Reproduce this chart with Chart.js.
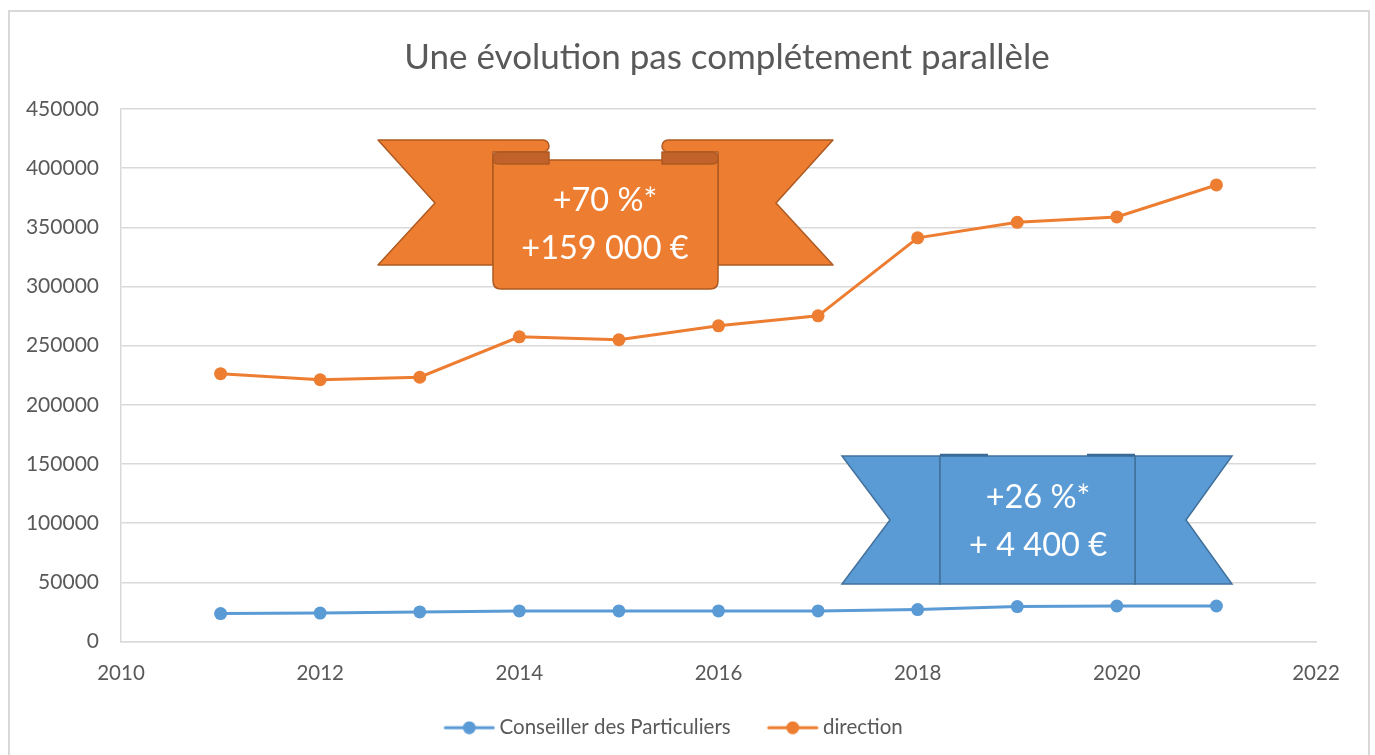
<!DOCTYPE html>
<html>
<head>
<meta charset="utf-8">
<script src="https://cdn.jsdelivr.net/npm/chart.js@4"></script>
<style>
html,body{margin:0;padding:0;background:#fff;}
#wrap{width:1375px;height:755px;position:relative;}
</style>
</head>
<body>
<div id="wrap"><canvas id="c" width="1375" height="755"></canvas></div>
<script>
// ---- data ----
const years = [2011, 2012, 2013, 2014, 2015, 2016, 2017, 2018, 2019, 2020, 2021];
const conseiller = [23600, 24000, 25000, 25800, 25800, 25800, 25800, 27000, 29500, 30000, 30000];
const direction = [226300, 221200, 223300, 257500, 255000, 266800, 275200, 341100, 354200, 358800, 385800];
const seriesNames = ['Conseiller des Particuliers', 'direction'];
const titleText = 'Une évolution pas complétement parallèle';
const bannerOrangeText = ['+70 %*', '+159 000 €'];
const bannerBlueText = ['+26 %*', '+ 4 400 €'];

const BLUE = '#5B9BD5', ORANGE = '#ED7D31';
const FONT = 'Lato, "Open Sans", sans-serif';
const GREY = '#595959';

// legend icon: line with a dot, drawn in the right 52px of a 64px-wide image
function legendIcon(color) {
  const c = document.createElement('canvas');
  c.width = 64; c.height = 14;
  const g = c.getContext('2d');
  const o = 12;
  g.strokeStyle = color; g.lineWidth = 3; g.lineCap = 'round';
  g.beginPath(); g.moveTo(o + 2, 7); g.lineTo(o + 50, 7); g.stroke();
  g.fillStyle = color; g.beginPath(); g.arc(o + 26, 7, 6.5, 0, Math.PI * 2); g.fill();
  return c;
}
const icons = [legendIcon(BLUE), legendIcon(ORANGE)];

const borderPlugin = {
  id: 'outerBorder',
  beforeDraw(chart) {
    const ctx = chart.ctx;
    ctx.save();
    ctx.fillStyle = '#fff';
    ctx.fillRect(0, 0, chart.width, chart.height);
    ctx.strokeStyle = '#d9d9d9';
    ctx.lineWidth = 2;
    ctx.strokeRect(9, 11, 1360, 800);
    ctx.restore();
  }
};

const titlePlugin = {
  id: 'titleText',
  afterDraw(chart) {
    const ctx = chart.ctx;
    ctx.save();
    ctx.fillStyle = GREY;
    ctx.font = '35px ' + FONT;
    ctx.textAlign = 'center'; ctx.textBaseline = 'middle';
    ctx.fillText(titleText, 727, 58);
    ctx.restore();
  }
};

function drawOrangeRibbon(ctx) {
  const fill = ORANGE, stroke = '#AE5A21', dark = '#C0622A';
  ctx.save();
  ctx.lineWidth = 1.5; ctx.strokeStyle = stroke; ctx.lineJoin = 'round';
  ctx.fillStyle = fill;
  ctx.beginPath();
  ctx.moveTo(378, 140); ctx.lineTo(543, 140);
  ctx.arc(543, 146, 6, -Math.PI / 2, Math.PI / 2);
  ctx.lineTo(493, 152); ctx.lineTo(493, 265); ctx.lineTo(378, 265); ctx.lineTo(435, 203);
  ctx.closePath(); ctx.fill(); ctx.stroke();
  ctx.beginPath();
  ctx.moveTo(833, 140); ctx.lineTo(668, 140);
  ctx.arc(668, 146, 6, -Math.PI / 2, Math.PI / 2, true);
  ctx.lineTo(718, 152); ctx.lineTo(718, 265); ctx.lineTo(833, 265); ctx.lineTo(776, 203);
  ctx.closePath(); ctx.fill(); ctx.stroke();
  ctx.beginPath();
  ctx.moveTo(493, 160); ctx.lineTo(718, 160); ctx.lineTo(718, 281);
  ctx.quadraticCurveTo(718, 289, 710, 289); ctx.lineTo(501, 289);
  ctx.quadraticCurveTo(493, 289, 493, 281); ctx.closePath();
  ctx.fill(); ctx.stroke();
  ctx.fillStyle = dark;
  ctx.beginPath();
  ctx.moveTo(549, 152); ctx.lineTo(500, 152);
  ctx.quadraticCurveTo(493, 152, 493, 158); ctx.lineTo(493, 160);
  ctx.quadraticCurveTo(493, 164, 500, 164); ctx.lineTo(549, 164); ctx.closePath();
  ctx.fill(); ctx.stroke();
  ctx.beginPath();
  ctx.moveTo(662, 152); ctx.lineTo(711, 152);
  ctx.quadraticCurveTo(718, 152, 718, 158); ctx.lineTo(718, 160);
  ctx.quadraticCurveTo(718, 164, 711, 164); ctx.lineTo(662, 164); ctx.closePath();
  ctx.fill(); ctx.stroke();
  ctx.fillStyle = '#fff';
  ctx.font = '32.5px ' + FONT;
  ctx.textAlign = 'center'; ctx.textBaseline = 'middle';
  ctx.fillText(bannerOrangeText[0], 605, 201);
  ctx.fillText(bannerOrangeText[1], 605, 249);
  ctx.restore();
}

function drawBlueRibbon(ctx) {
  const fill = BLUE, stroke = '#41719C';
  ctx.save();
  ctx.lineWidth = 1.5; ctx.strokeStyle = stroke; ctx.fillStyle = fill; ctx.lineJoin = 'miter';
  ctx.beginPath();
  ctx.moveTo(842, 456); ctx.lineTo(940, 456); ctx.lineTo(940, 584); ctx.lineTo(842, 584); ctx.lineTo(890, 520);
  ctx.closePath(); ctx.fill(); ctx.stroke();
  ctx.beginPath();
  ctx.moveTo(1232, 456); ctx.lineTo(1135, 456); ctx.lineTo(1135, 584); ctx.lineTo(1232, 584); ctx.lineTo(1186, 520);
  ctx.closePath(); ctx.fill(); ctx.stroke();
  ctx.beginPath();
  ctx.rect(940, 456, 195, 128); ctx.fill(); ctx.stroke();
  ctx.strokeStyle = '#3A6A96'; ctx.lineWidth = 2.5;
  ctx.beginPath(); ctx.moveTo(940, 455); ctx.lineTo(988, 455); ctx.stroke();
  ctx.beginPath(); ctx.moveTo(1087, 455); ctx.lineTo(1135, 455); ctx.stroke();
  ctx.fillStyle = '#fff';
  ctx.font = '32.5px ' + FONT;
  ctx.textAlign = 'center'; ctx.textBaseline = 'middle';
  ctx.fillText(bannerBlueText[0], 1038, 498);
  ctx.fillText(bannerBlueText[1], 1038, 546);
  ctx.restore();
}

const ribbonPlugin = {
  id: 'ribbons',
  afterDatasetsDraw(chart) {
    drawOrangeRibbon(chart.ctx);
    drawBlueRibbon(chart.ctx);
  }
};

const toPoints = vals => years.map((y, i) => ({ x: y, y: vals[i] }));

new Chart(document.getElementById('c'), {
  type: 'line',
  data: {
    datasets: [
      { label: seriesNames[0], data: toPoints(conseiller), borderColor: BLUE, backgroundColor: BLUE,
        borderWidth: 3, pointRadius: 6.5, pointHoverRadius: 6.5, pointBorderWidth: 0, tension: 0 },
      { label: seriesNames[1], data: toPoints(direction), borderColor: ORANGE, backgroundColor: ORANGE,
        borderWidth: 3, pointRadius: 6.5, pointHoverRadius: 6.5, pointBorderWidth: 0, tension: 0 }
    ]
  },
  options: {
    responsive: false,
    animation: false,
    layout: { padding: { left: 24, right: 59, top: 109, bottom: 7 } },
    scales: {
      x: {
        type: 'linear', min: 2010, max: 2022,
        ticks: { stepSize: 2, color: GREY, font: { family: FONT, size: 20.5 }, padding: 20,
                 maxRotation: 0, callback: v => String(v) },
        grid: { display: false, drawTicks: false },
        border: { display: true, color: '#d9d9d9', width: 1.5 },
        afterFit: s => { s.height = 46; }
      },
      y: {
        min: 0, max: 450000,
        ticks: { stepSize: 50000, color: GREY, font: { family: FONT, size: 21 }, padding: 22,
                 callback: v => String(v) },
        grid: { color: '#d9d9d9', lineWidth: 1.5, drawTicks: false },
        border: { display: true, color: '#d9d9d9', width: 1.5 },
        afterFit: s => { s.width = 97; }
      }
    },
    plugins: {
      title: { display: false },
      legend: {
        position: 'bottom',
        labels: {
          color: GREY, font: { family: FONT, size: 20.5 }, usePointStyle: true, pointStyleWidth: 52,
          padding: 30,
          generateLabels: chart => chart.data.datasets.map((d, i) => ({
            text: d.label, pointStyle: icons[i], fillStyle: d.borderColor, strokeStyle: d.borderColor,
            lineWidth: 0, hidden: false, datasetIndex: i, fontColor: GREY
          }))
        }
      },
      tooltip: { enabled: false }
    }
  },
  plugins: [borderPlugin, ribbonPlugin, titlePlugin]
});
</script>
</body>
</html>
